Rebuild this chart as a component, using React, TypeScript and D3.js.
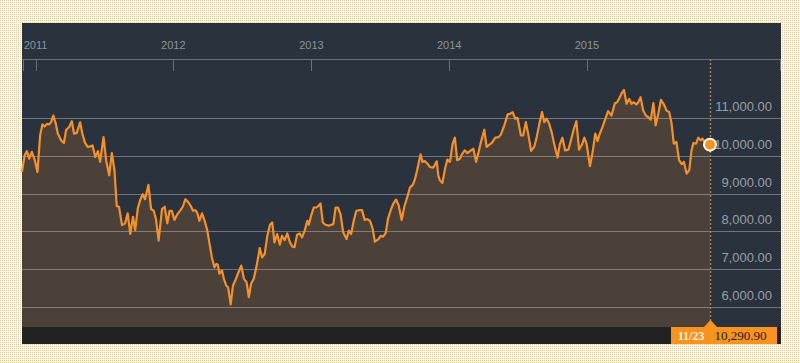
import React, { useEffect, useRef } from 'react';
import * as d3 from 'd3';

type Point = [string, number];

// closing values, grouped by year
const closes2010: Point[] = [
  ['2010-11-26', 9570], ['2010-12-03', 10010], ['2010-12-09', 10120], ['2010-12-15', 9920],
  ['2010-12-22', 10100], ['2010-12-30', 9880],
];

const closes2011: Point[] = [
  ['2011-01-06', 9570], ['2011-01-13', 10535], ['2011-01-19', 10825], ['2011-01-25', 10770],
  ['2011-01-31', 10840], ['2011-02-06', 10825], ['2011-02-11', 10885], ['2011-02-17', 11060],
  ['2011-02-24', 10825], ['2011-03-01', 10580], ['2011-03-10', 10400], ['2011-03-17', 10335],
  ['2011-03-23', 10685], ['2011-03-31', 10755], ['2011-04-07', 10910], ['2011-04-13', 10580],
  ['2011-04-20', 10600], ['2011-04-29', 10880], ['2011-05-05', 10580], ['2011-05-12', 10335],
  ['2011-05-19', 10230], ['2011-05-26', 10245], ['2011-06-01', 10270], ['2011-06-08', 9965],
  ['2011-06-15', 10120], ['2011-06-21', 9835], ['2011-06-30', 10490], ['2011-07-07', 9880],
  ['2011-07-15', 9480], ['2011-07-22', 10070], ['2011-07-29', 9615], ['2011-08-04', 8670],
  ['2011-08-10', 8650], ['2011-08-18', 8165], ['2011-08-26', 8210], ['2011-09-02', 8475],
  ['2011-09-09', 7930], ['2011-09-16', 8385], ['2011-09-22', 8035], ['2011-09-29', 8620],
  ['2011-10-06', 8850], ['2011-10-12', 8980], ['2011-10-18', 8850], ['2011-10-27', 9230],
  ['2011-11-03', 8590], ['2011-11-10', 8545], ['2011-11-16', 8325], ['2011-11-23', 7755],
  ['2011-12-02', 8590], ['2011-12-09', 8650], ['2011-12-16', 8210], ['2011-12-22', 8545],
  ['2011-12-28', 8545],
];

const closes2012: Point[] = [
  ['2012-01-04', 8300], ['2012-01-11', 8440], ['2012-01-20', 8560], ['2012-01-26', 8650],
  ['2012-02-02', 8850], ['2012-02-08', 8790], ['2012-02-16', 8675], ['2012-02-22', 8545],
  ['2012-02-28', 8560], ['2012-03-04', 8500], ['2012-03-10', 8280], ['2012-03-17', 8475],
  ['2012-03-24', 8280], ['2012-03-31', 8020], ['2012-04-06', 7670], ['2012-04-12', 7315],
  ['2012-04-19', 7050], ['2012-04-24', 7140], ['2012-04-28', 7120], ['2012-05-02', 6880],
  ['2012-05-09', 6965], ['2012-05-14', 6745], ['2012-05-20', 6570], ['2012-05-25', 6525],
  ['2012-06-01', 6070], ['2012-06-07', 6570], ['2012-06-13', 6700], ['2012-06-20', 6880],
  ['2012-06-29', 7095], ['2012-07-06', 6745], ['2012-07-13', 6660], ['2012-07-19', 6265],
  ['2012-07-25', 6615], ['2012-08-01', 6750], ['2012-08-08', 7050], ['2012-08-17', 7560],
  ['2012-08-23', 7315], ['2012-08-30', 7400], ['2012-09-06', 7885], ['2012-09-13', 8175],
  ['2012-09-19', 8235], ['2012-09-25', 7710], ['2012-10-02', 7930], ['2012-10-09', 7650],
  ['2012-10-15', 7885], ['2012-10-22', 7770], ['2012-10-29', 7945], ['2012-11-05', 7710],
  ['2012-11-11', 7600], ['2012-11-17', 7580], ['2012-11-24', 7910], ['2012-12-01', 7945],
  ['2012-12-07', 7840], ['2012-12-14', 8020], ['2012-12-21', 8280], ['2012-12-25', 8175],
  ['2012-12-31', 8410],
];

const closes2013: Point[] = [
  ['2013-01-07', 8630], ['2013-01-14', 8630], ['2013-01-19', 8670], ['2013-01-25', 8735],
  ['2013-01-31', 8235], ['2013-02-07', 8175], ['2013-02-16', 8150], ['2013-02-28', 8190],
  ['2013-03-06', 8630], ['2013-03-12', 8630], ['2013-03-19', 8455], ['2013-03-26', 7975],
  ['2013-04-04', 7800], ['2013-04-10', 8020], ['2013-04-16', 7930], ['2013-04-23', 8280],
  ['2013-04-30', 8545], ['2013-05-09', 8560], ['2013-05-15', 8560], ['2013-05-22', 8300],
  ['2013-05-29', 8325], ['2013-06-05', 8280], ['2013-06-12', 8080], ['2013-06-18', 7730],
  ['2013-06-27', 7790], ['2013-07-03', 7880], ['2013-07-10', 7860], ['2013-07-17', 7965],
  ['2013-07-23', 8340], ['2013-07-30', 8560], ['2013-08-06', 8735], ['2013-08-13', 8840],
  ['2013-08-20', 8690], ['2013-08-28', 8300], ['2013-09-04', 8650], ['2013-09-12', 8910],
  ['2013-09-19', 9160], ['2013-09-26', 9220], ['2013-10-02', 9370], ['2013-10-08', 9615],
  ['2013-10-17', 10035], ['2013-10-22', 9835], ['2013-10-28', 9860], ['2013-11-04', 9790],
  ['2013-11-11', 9700], ['2013-11-20', 9685], ['2013-11-29', 9850], ['2013-12-03', 9480],
  ['2013-12-07', 9350], ['2013-12-14', 9280], ['2013-12-21', 9660], ['2013-12-27', 9895],
];

const closes2014: Point[] = [
  ['2014-01-03', 9835], ['2014-01-10', 10315], ['2014-01-16', 10475], ['2014-01-22', 9880],
  ['2014-01-29', 9920], ['2014-02-05', 10055], ['2014-02-11', 10140], ['2014-02-18', 10070],
  ['2014-02-25', 10120], ['2014-03-06', 10185], ['2014-03-13', 9835], ['2014-03-20', 10100],
  ['2014-03-26', 10360], ['2014-04-04', 10685], ['2014-04-10', 10230], ['2014-04-15', 10270],
  ['2014-04-24', 10335], ['2014-05-03', 10475], ['2014-05-12', 10490], ['2014-05-18', 10560],
  ['2014-05-27', 10800], ['2014-06-05', 11090], ['2014-06-11', 11105], ['2014-06-18', 11150],
  ['2014-06-25', 10975], ['2014-07-01', 11000], ['2014-07-10', 10535], ['2014-07-16', 10535],
  ['2014-07-23', 10885], ['2014-07-30', 10535], ['2014-08-06', 10125], ['2014-08-14', 10230],
  ['2014-08-20', 10450], ['2014-08-27', 10800], ['2014-09-04', 11150], ['2014-09-10', 10885],
  ['2014-09-16', 10975], ['2014-09-23', 10840], ['2014-09-30', 10595], ['2014-10-06', 10315],
  ['2014-10-15', 9950], ['2014-10-21', 10300], ['2014-10-28', 10475], ['2014-11-04', 10140],
  ['2014-11-13', 10160], ['2014-11-19', 10385], ['2014-11-28', 10735], ['2014-12-04', 10910],
  ['2014-12-11', 10160], ['2014-12-19', 10300], ['2014-12-25', 10475], ['2014-12-31', 10315],
];

const closes2015: Point[] = [
  ['2015-01-09', 9720], ['2015-01-16', 10095], ['2015-01-23', 10580], ['2015-01-29', 10385],
  ['2015-02-04', 10580], ['2015-02-11', 10755], ['2015-02-18', 10950], ['2015-02-26', 11175],
  ['2015-03-07', 11060], ['2015-03-16', 11385], ['2015-03-22', 11410], ['2015-03-29', 11545],
  ['2015-04-03', 11650], ['2015-04-09', 11735], ['2015-04-16', 11370], ['2015-04-23', 11500],
  ['2015-04-29', 11370], ['2015-05-05', 11410], ['2015-05-12', 11350], ['2015-05-17', 11410],
  ['2015-05-23', 11545], ['2015-05-30', 11190], ['2015-06-06', 11060], ['2015-06-12', 11020],
  ['2015-06-19', 10950], ['2015-06-26', 11385], ['2015-07-02', 10800], ['2015-07-09', 11105],
  ['2015-07-16', 11475], ['2015-07-24', 11350], ['2015-07-31', 11190], ['2015-08-07', 11150],
  ['2015-08-13', 10860], ['2015-08-19', 10315], ['2015-08-26', 10360], ['2015-09-02', 9880],
  ['2015-09-09', 9775], ['2015-09-15', 9835], ['2015-09-22', 9525], ['2015-09-29', 9615],
  ['2015-10-05', 10140], ['2015-10-10', 10335], ['2015-10-17', 10315], ['2015-10-23', 10475],
  ['2015-10-29', 10405], ['2015-11-03', 10450], ['2015-11-09', 10360], ['2015-11-15', 10405],
  ['2015-11-23', 10290.9],
];

const yTicks = [6000, 7000, 8000, 9000, 10000, 11000];
const domainStart = '2010-11-26';
const lastLabel = '11/23';

export default function App() {
  const svgRef = useRef<SVGSVGElement>(null);

  useEffect(() => {
    const svg = d3.select(svgRef.current);
    svg.selectAll('*').remove();

    const width = 800;
    const height = 363;
    const panel = { left: 22, top: 23, right: 781, bottom: 344 };
    const plotBottom = 327;
    const axisY = 59;
    const endX = 710;

    const parse = d3.timeParse('%Y-%m-%d');
    const data = [...closes2010, ...closes2011, ...closes2012, ...closes2013, ...closes2014, ...closes2015]
      .map(([d, v]) => ({ date: parse(d) as Date, value: v }));
    const last = data[data.length - 1];

    const x = d3.scaleTime()
      .domain([parse(domainStart) as Date, last.date])
      .range([panel.left, endX]);
    const y = d3.scaleLinear().domain([5500, 12500]).range([326, 61]);

    // dotted beige backdrop
    const defs = svg.append('defs');
    const pat = defs.append('pattern')
      .attr('id', 'dots')
      .attr('width', 2)
      .attr('height', 2)
      .attr('patternUnits', 'userSpaceOnUse');
    pat.append('rect').attr('width', 2).attr('height', 2).attr('fill', '#fcf9f0');
    pat.append('rect').attr('width', 1).attr('height', 1).attr('fill', '#dfca98');

    svg.append('rect').attr('width', width).attr('height', height).attr('fill', 'url(#dots)');

    svg.append('rect')
      .attr('x', panel.left)
      .attr('y', panel.top)
      .attr('width', panel.right - panel.left)
      .attr('height', panel.bottom - panel.top)
      .attr('fill', '#29323d');

    // area under the line
    const area = d3.area<{ date: Date; value: number }>()
      .x(d => x(d.date))
      .y0(plotBottom)
      .y1(d => y(d.value));
    svg.append('path').datum(data).attr('d', area).attr('fill', '#4b4139');

    // gridlines
    svg.append('g')
      .selectAll('line')
      .data(yTicks)
      .enter()
      .append('line')
      .attr('x1', panel.left)
      .attr('x2', panel.right)
      .attr('y1', d => Math.round(y(d)) + 0.5)
      .attr('y2', d => Math.round(y(d)) + 0.5)
      .attr('stroke', 'rgba(200,200,200,0.45)')
      .attr('stroke-width', 1);

    // price line
    const line = d3.line<{ date: Date; value: number }>()
      .x(d => x(d.date))
      .y(d => y(d.value));
    svg.append('path')
      .datum(data)
      .attr('d', line)
      .attr('fill', 'none')
      .attr('stroke', '#f5902a')
      .attr('stroke-width', 2.2)
      .attr('stroke-linejoin', 'round');

    // bottom strip
    svg.append('rect')
      .attr('x', panel.left)
      .attr('y', plotBottom)
      .attr('width', panel.right - panel.left)
      .attr('height', panel.bottom - plotBottom)
      .attr('fill', '#222222');

    // top time axis
    svg.append('line')
      .attr('x1', panel.left)
      .attr('x2', panel.right)
      .attr('y1', axisY + 0.5)
      .attr('y2', axisY + 0.5)
      .attr('stroke', '#6a7079');

    const years = x.ticks(d3.timeYear.every(1));
    const tickXs = [panel.left + 1, ...years.map(d => x(d)), panel.right - 1];
    svg.append('g')
      .selectAll('line')
      .data(tickXs)
      .enter()
      .append('line')
      .attr('x1', d => Math.round(d) + 0.5)
      .attr('x2', d => Math.round(d) + 0.5)
      .attr('y1', axisY)
      .attr('y2', axisY + 12)
      .attr('stroke', '#6a7079');

    svg.append('g')
      .selectAll('text')
      .data(years)
      .enter()
      .append('text')
      .attr('x', d => x(d))
      .attr('y', 49)
      .attr('text-anchor', 'middle')
      .style('font-family', 'Liberation Sans, Arial, sans-serif')
      .style('font-size', '11px')
      .style('fill', '#8f949b')
      .text(d => d3.timeFormat('%Y')(d));

    // y labels on the right
    svg.append('g')
      .selectAll('text')
      .data(yTicks)
      .enter()
      .append('text')
      .attr('x', 772)
      .attr('y', d => y(d) - 7)
      .attr('text-anchor', 'end')
      .style('font-family', 'Liberation Sans, Arial, sans-serif')
      .style('font-size', '13px')
      .style('fill', '#9a9ea4')
      .text(d => d3.format(',.2f')(d));

    // marker for latest value
    svg.append('line')
      .attr('x1', endX + 0.5)
      .attr('x2', endX + 0.5)
      .attr('y1', axisY)
      .attr('y2', plotBottom)
      .attr('stroke', '#a5804c')
      .attr('stroke-width', 1.5)
      .attr('stroke-dasharray', '2,2');

    svg.append('circle')
      .attr('cx', x(last.date))
      .attr('cy', y(last.value))
      .attr('r', 6)
      .attr('fill', '#f7931e')
      .attr('stroke', '#ffffff')
      .attr('stroke-width', 2);

    // latest value tag
    const tag = svg.append('g');
    tag.append('path')
      .attr('d', `M${endX - 6},${plotBottom} L${endX + 0.5},${plotBottom - 7} L${endX + 7},${plotBottom} Z`)
      .attr('fill', '#f7931e');
    tag.append('rect')
      .attr('x', 671)
      .attr('y', plotBottom)
      .attr('width', 106)
      .attr('height', panel.bottom - plotBottom)
      .attr('fill', '#f7931e');
    tag.append('text')
      .attr('x', 691)
      .attr('y', 340)
      .attr('text-anchor', 'middle')
      .style('font-family', 'Liberation Serif, serif')
      .style('font-weight', 'bold')
      .style('font-size', '12px')
      .style('fill', '#fff1dc')
      .text(lastLabel);
    tag.append('text')
      .attr('x', 740.5)
      .attr('y', 340)
      .attr('text-anchor', 'middle')
      .style('font-family', 'Liberation Serif, serif')
      .style('font-size', '13px')
      .style('fill', '#1c1c1c')
      .text(d3.format(',.2f')(last.value));
  }, []);

  return (
    <div style={{ position: 'fixed', left: 0, top: 0 }}>
      <svg ref={svgRef} width={800} height={363} style={{ display: 'block' }}></svg>
    </div>
  );
}
